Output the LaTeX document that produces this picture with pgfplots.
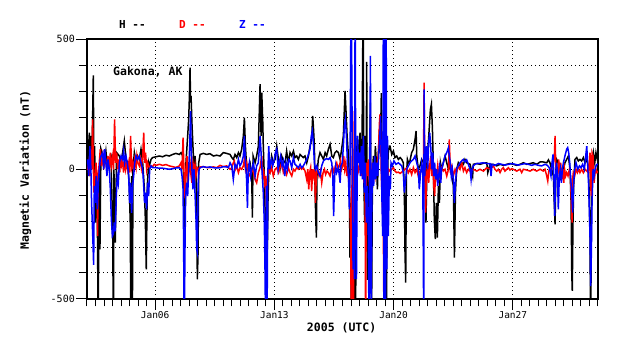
\documentclass[border=0pt]{standalone}
\usepackage{pgfplots}
\pgfplotsset{compat=1.18}
\usepackage{fontspec}
\newfontfamily\mono{DejaVu Sans Mono}
\begin{document}
\begin{tikzpicture}
\begin{axis}[
  at={(0pt,0pt)}, anchor=south west,
  scale only axis, width=511pt, height=260pt,
  xmin=2, xmax=32, ymin=-500, ymax=500,
  axis line style={line width=1.2pt},
  xtick={6,13,20,27}, xticklabels={Jan06,Jan13,Jan20,Jan27},
  minor xtick={2,2.5,...,32},
  ytick={-500,0,500}, yticklabels={-500,0,500},
  minor ytick={-400,-300,-200,-100,100,200,300,400},
  tick align=outside, tick pos=left,
  major tick length=11pt, minor tick length=7.5pt,
  every tick/.style={black, line width=1pt},
  xmajorgrids=true, ymajorgrids=true, yminorgrids=true,
  major grid style={black, line width=1pt, dash pattern=on 1pt off 3pt},
  minor grid style={black, line width=1pt, dash pattern=on 1pt off 3pt},
  xticklabel style={font=\mono\fontsize{9.5}{11}\selectfont, inner sep=1pt},
  yticklabel style={font=\mono\fontsize{10}{12}\selectfont, inner sep=1pt},
  clip=true,
]
\addplot[black, line width=1.5pt] coordinates {
(2.00,20) (2.04,24) (2.14,140) (2.17,-27) (2.23,127) (2.29,24) (2.37,360) (2.41,-65) (2.45,88) (2.49,-206) (2.57,-27) (2.62,-283) (2.66,-650) (2.70,-1) (2.76,-309) (2.82,76) (2.92,50) (3.02,24) (3.11,69) (3.21,-1) (3.31,37) (3.41,50) (3.51,-245) (3.55,-650) (3.58,-1) (3.66,-283) (3.74,63) (3.90,50) (4.00,24) (4.09,63) (4.19,108) (4.29,37) (4.39,24) (4.48,-65) (4.54,-206) (4.58,-650) (4.62,-27) (4.66,-650) (4.70,-1) (4.78,63) (4.88,24) (4.97,50) (5.07,37) (5.17,76) (5.27,24) (5.37,-78) (5.42,-181) (5.48,-386) (5.54,-65) (5.62,24) (5.66,12) (5.76,37) (5.85,44) (6.05,47) (6.25,50) (6.44,47) (6.64,53) (6.83,50) (7.03,56) (7.22,60) (7.42,56) (7.52,63) (7.62,50) (7.67,-27) (7.73,-283) (7.81,24) (7.91,127) (7.97,191) (8.01,274) (8.05,390) (8.08,255) (8.11,281) (8.16,178) (8.22,88) (8.28,-1) (8.34,50) (8.40,-1) (8.44,-206) (8.48,-424) (8.52,-322) (8.56,24) (8.64,56) (8.83,60) (9.03,56) (9.22,59) (9.42,50) (9.61,53) (9.81,50) (10.00,63) (10.20,60) (10.40,56) (10.50,44) (10.59,37) (10.69,56) (10.79,44) (10.89,63) (10.98,50) (11.08,76) (11.18,127) (11.24,197) (11.30,88) (11.38,-1) (11.47,12) (11.57,24) (11.67,-27) (11.71,-187) (11.75,50) (11.87,24) (11.96,50) (12.06,88) (12.16,326) (12.22,127) (12.26,294) (12.32,178) (12.35,88) (12.41,-27) (12.47,-206) (12.51,-386) (12.55,-258) (12.59,-309) (12.63,-104) (12.69,24) (12.75,-1) (12.84,50) (12.94,24) (13.04,37) (13.14,88) (13.24,37) (13.33,-1) (13.43,50) (13.53,31) (13.63,24) (13.72,69) (13.82,24) (13.92,63) (14.02,50) (14.12,69) (14.21,44) (14.31,50) (14.41,37) (14.51,56) (14.60,50) (14.70,44) (14.80,50) (14.90,24) (15.00,50) (15.09,88) (15.19,114) (15.25,204) (15.29,165) (15.35,88) (15.39,-78) (15.43,-194) (15.47,-264) (15.50,-27) (15.58,37) (15.68,63) (15.78,50) (15.88,37) (15.98,63) (16.07,50) (16.17,76) (16.27,95) (16.37,50) (16.46,44) (16.56,63) (16.66,69) (16.76,63) (16.86,37) (16.95,76) (17.05,127) (17.15,300) (17.21,217) (17.27,127) (17.35,50) (17.40,-27) (17.44,-341) (17.48,-130) (17.52,-650) (17.56,-130) (17.64,-650) (17.70,76) (17.76,-650) (17.82,24) (17.87,127) (17.93,50) (17.99,76) (18.03,140) (18.09,-1) (18.15,127) (18.21,650) (18.25,-27) (18.30,-206) (18.34,127) (18.38,-206) (18.42,412) (18.46,-426) (18.52,-100) (18.58,-1) (18.64,255) (18.70,-650) (18.75,-100) (18.81,50) (18.87,-27) (18.93,88) (18.99,24) (19.05,-78) (19.11,63) (19.17,150) (19.22,60) (19.28,292) (19.33,-40) (19.40,-250) (19.45,50) (19.52,-130) (19.57,-650) (19.62,-100) (19.68,60) (19.75,88) (19.79,88) (19.89,56) (19.99,69) (20.08,44) (20.18,50) (20.28,37) (20.38,44) (20.48,37) (20.57,24) (20.63,-78) (20.67,-322) (20.71,-437) (20.75,-27) (20.81,37) (20.87,24) (20.96,31) (21.06,63) (21.16,76) (21.26,114) (21.32,146) (21.36,50) (21.45,-1) (21.55,12) (21.65,37) (21.75,24) (21.85,-1) (21.90,-206) (21.96,24) (22.04,101) (22.10,165) (22.16,229) (22.22,249) (22.28,153) (22.33,24) (22.39,-194) (22.45,-270) (22.51,-130) (22.57,-264) (22.63,-65) (22.69,-130) (22.75,24) (22.82,-1) (22.92,24) (23.02,50) (23.12,24) (23.22,-1) (23.31,12) (23.41,-27) (23.51,-65) (23.57,-341) (23.63,-91) (23.70,-1) (23.80,24) (23.90,12) (24.00,24) (24.10,18) (24.19,37) (24.29,24) (24.49,18) (24.64,-27) (24.68,18) (24.88,21) (25.07,18) (25.27,22) (25.47,24) (25.53,-14) (25.66,18) (25.86,18) (26.05,12) (26.25,18) (26.44,14) (26.64,18) (26.83,21) (27.03,18) (27.23,14) (27.42,18) (27.62,24) (27.81,18) (28.01,21) (28.20,24) (28.40,18) (28.60,27) (28.79,27) (28.99,24) (29.09,35) (29.18,24) (29.28,-1) (29.38,-27) (29.44,-142) (29.48,-213) (29.52,-40) (29.57,37) (29.67,24) (29.77,-40) (29.87,-27) (29.97,-1) (30.06,24) (30.16,37) (30.26,50) (30.36,-1) (30.42,-130) (30.46,-399) (30.49,-469) (30.53,-213) (30.57,-65) (30.65,37) (30.75,44) (30.85,31) (30.94,37) (31.04,31) (31.14,44) (31.24,24) (31.34,37) (31.43,12) (31.49,-104) (31.53,-258) (31.57,-650) (31.61,-206) (31.65,24) (31.73,63) (31.81,24) (31.88,63) (31.96,37) (32.00,40)
};
\addplot[red, line width=1.5pt] coordinates {
(2.00,-1) (2.04,-1) (2.10,24) (2.16,-27) (2.21,50) (2.27,-1) (2.33,191) (2.37,12) (2.41,-91) (2.47,-27) (2.53,24) (2.59,-40) (2.62,-258) (2.66,-27) (2.72,24) (2.78,76) (2.84,12) (2.92,50) (2.98,-1) (3.04,63) (3.11,24) (3.17,-1) (3.23,50) (3.31,5) (3.37,63) (3.43,12) (3.51,50) (3.56,-1) (3.62,191) (3.68,24) (3.74,63) (3.80,-1) (3.86,37) (3.92,-14) (3.98,50) (4.03,12) (4.09,24) (4.15,-14) (4.21,37) (4.27,-1) (4.33,24) (4.39,-1) (4.45,24) (4.50,-14) (4.56,127) (4.62,5) (4.68,24) (4.74,-1) (4.80,37) (4.88,5) (4.93,50) (4.99,24) (5.07,12) (5.13,37) (5.19,5) (5.27,50) (5.33,140) (5.38,24) (5.44,63) (5.50,-1) (5.56,24) (5.66,5) (5.76,12) (5.85,9) (5.95,18) (6.05,14) (6.25,18) (6.44,14) (6.64,17) (6.83,12) (7.03,9) (7.22,6) (7.42,12) (7.52,24) (7.58,-1) (7.64,121) (7.69,-1) (7.73,-91) (7.77,-113) (7.81,-1) (7.87,50) (7.93,-53) (7.99,-1) (8.05,24) (8.11,-27) (8.16,-53) (8.22,24) (8.28,-1) (8.34,18) (8.40,-27) (8.48,5) (8.56,-1) (8.64,8) (8.83,9) (9.03,6) (9.22,5) (9.42,8) (9.61,5) (9.81,14) (10.00,9) (10.20,12) (10.30,5) (10.40,-1) (10.50,5) (10.59,24) (10.65,31) (10.71,-1) (10.79,12) (10.89,-14) (10.98,5) (11.08,-1) (11.18,12) (11.24,37) (11.30,-1) (11.38,24) (11.47,-14) (11.57,-27) (11.67,-1) (11.77,-14) (11.87,-40) (11.96,-53) (12.06,-14) (12.16,5) (12.26,50) (12.32,-40) (12.37,-1) (12.43,-53) (12.49,-27) (12.55,-168) (12.61,-27) (12.67,-1) (12.75,-14) (12.84,5) (12.94,-27) (13.04,-1) (13.14,5) (13.24,-14) (13.33,5) (13.43,24) (13.53,-14) (13.63,-1) (13.72,-21) (13.82,5) (13.92,-14) (14.02,-27) (14.12,-1) (14.21,-8) (14.31,5) (14.41,-1) (14.51,5) (14.60,-1) (14.70,5) (14.80,-8) (14.90,-40) (14.96,-1) (15.02,-78) (15.07,-14) (15.13,5) (15.19,-85) (15.25,-1) (15.31,-27) (15.37,-1) (15.41,-130) (15.47,-14) (15.54,-1) (15.62,-27) (15.70,-8) (15.78,-53) (15.86,-14) (15.94,-1) (16.01,-21) (16.09,-8) (16.17,-14) (16.27,-27) (16.35,-1) (16.43,5) (16.50,-14) (16.58,12) (16.66,24) (16.74,-1) (16.82,12) (16.88,31) (16.95,-1) (17.01,12) (17.07,50) (17.13,-1) (17.19,24) (17.25,-27) (17.31,5) (17.37,-53) (17.42,-91) (17.48,-258) (17.52,-650) (17.56,-27) (17.60,223) (17.64,-650) (17.68,-65) (17.74,50) (17.80,-27) (17.85,24) (17.91,-14) (17.97,-1) (18.03,63) (18.09,-27) (18.15,24) (18.21,-1) (18.26,-53) (18.32,-1) (18.36,-650) (18.40,24) (18.46,-27) (18.52,37) (18.58,-65) (18.64,-1) (18.70,-40) (18.75,24) (18.81,-14) (18.87,12) (18.93,-27) (18.99,-1) (19.05,24) (19.11,63) (19.17,178) (19.20,210) (19.24,127) (19.28,-27) (19.34,-130) (19.40,-258) (19.44,-650) (19.48,-130) (19.54,-1) (19.60,24) (19.66,-27) (19.71,-1) (19.79,-8) (19.89,-1) (19.99,5) (20.08,-8) (20.18,-14) (20.28,-12) (20.38,-17) (20.48,-12) (20.57,-8) (20.67,-1) (20.77,5) (20.87,-14) (20.96,-1) (21.06,-21) (21.16,5) (21.26,-14) (21.36,-1) (21.45,-27) (21.55,-8) (21.65,-1) (21.75,-27) (21.79,332) (21.83,-1) (21.88,-168) (21.94,-27) (22.00,24) (22.06,-53) (22.12,12) (22.18,50) (22.24,-27) (22.30,24) (22.35,-53) (22.41,-104) (22.47,-1) (22.53,-27) (22.59,12) (22.65,-27) (22.71,-1) (22.77,-14) (22.82,5) (22.92,-8) (23.02,-1) (23.12,-27) (23.22,-1) (23.27,114) (23.33,-1) (23.41,12) (23.51,-27) (23.61,-1) (23.70,-14) (23.80,12) (23.90,-1) (24.00,24) (24.10,-8) (24.19,5) (24.29,-14) (24.39,-1) (24.49,-8) (24.68,-1) (24.88,-8) (25.07,-1) (25.27,-8) (25.47,5) (25.66,-1) (25.76,5) (25.86,12) (25.95,-1) (26.05,-8) (26.15,-1) (26.25,-14) (26.34,-1) (26.44,5) (26.54,-8) (26.64,-1) (26.74,5) (26.83,-4) (26.93,1) (27.03,-1) (27.23,-8) (27.42,-1) (27.52,-14) (27.62,-1) (27.81,-4) (28.01,-8) (28.20,-1) (28.40,-8) (28.60,-1) (28.79,-8) (28.89,-1) (28.99,-27) (29.05,-46) (29.11,-8) (29.18,1) (29.28,-1) (29.38,24) (29.44,50) (29.48,127) (29.52,12) (29.57,-1) (29.63,-27) (29.69,37) (29.75,-14) (29.81,24) (29.87,-40) (29.93,-1) (29.99,-53) (30.04,-1) (30.10,-27) (30.16,-14) (30.24,-27) (30.32,-1) (30.38,-27) (30.44,-130) (30.48,-206) (30.51,-40) (30.55,-14) (30.63,-27) (30.71,-1) (30.79,-14) (30.87,-1) (30.94,-14) (31.04,-1) (31.14,-14) (31.24,-1) (31.34,-8) (31.43,-14) (31.49,24) (31.53,63) (31.57,-65) (31.61,-104) (31.65,63) (31.71,50) (31.77,-53) (31.83,-14) (31.88,-1) (31.94,-14) (32.00,-8)
};
\addplot[blue, line width=1.5pt] coordinates {
(2.00,18) (2.04,37) (2.10,-27) (2.17,88) (2.23,-1) (2.27,-130) (2.31,-206) (2.35,-283) (2.39,-369) (2.43,-65) (2.49,-130) (2.55,-27) (2.61,-155) (2.66,-65) (2.72,-1) (2.78,37) (2.82,50) (2.92,63) (2.98,-1) (3.04,76) (3.11,24) (3.17,-27) (3.23,37) (3.31,-1) (3.37,-78) (3.43,-194) (3.49,-258) (3.55,-250) (3.60,-206) (3.66,-240) (3.72,-104) (3.78,-27) (3.84,-53) (3.90,24) (4.00,50) (4.09,37) (4.15,69) (4.21,24) (4.29,50) (4.39,12) (4.45,-27) (4.50,-130) (4.56,-53) (4.62,-169) (4.68,-65) (4.74,-27) (4.80,24) (4.88,50) (4.97,37) (5.07,50) (5.17,24) (5.27,-1) (5.33,-65) (5.38,-130) (5.44,-91) (5.50,-155) (5.56,-53) (5.62,-104) (5.68,-1) (5.76,12) (5.85,5) (6.05,5) (6.25,3) (6.44,3) (6.64,1) (6.83,-1) (7.03,1) (7.22,4) (7.42,5) (7.52,-1) (7.58,-27) (7.64,-78) (7.67,-258) (7.71,-650) (7.75,-322) (7.79,-104) (7.85,-53) (7.91,-104) (7.97,-1) (8.03,88) (8.08,223) (8.11,101) (8.16,-1) (8.22,-78) (8.28,-1) (8.34,-91) (8.40,-194) (8.44,-309) (8.48,-322) (8.52,-65) (8.58,-1) (8.64,5) (8.83,9) (9.03,6) (9.22,8) (9.42,5) (9.61,4) (9.81,5) (10.00,9) (10.20,8) (10.30,5) (10.40,24) (10.50,12) (10.59,-40) (10.69,18) (10.79,5) (10.89,37) (10.98,12) (11.08,24) (11.18,50) (11.24,127) (11.30,24) (11.36,-27) (11.42,-149) (11.47,-1) (11.53,24) (11.61,-27) (11.67,-1) (11.77,24) (11.87,-27) (11.96,12) (12.06,24) (12.16,127) (12.22,63) (12.27,-1) (12.35,-91) (12.41,-206) (12.45,-386) (12.49,-650) (12.53,-65) (12.57,-650) (12.61,-27) (12.67,88) (12.73,-1) (12.78,24) (12.84,37) (12.90,12) (12.98,31) (13.06,63) (13.14,76) (13.22,-1) (13.29,24) (13.37,50) (13.45,12) (13.53,31) (13.61,-27) (13.69,24) (13.76,-1) (13.84,37) (13.92,31) (14.02,5) (14.12,44) (14.21,18) (14.31,12) (14.41,5) (14.51,18) (14.60,5) (14.70,12) (14.80,24) (14.90,37) (15.00,56) (15.09,76) (15.17,127) (15.23,146) (15.29,101) (15.35,24) (15.41,-1) (15.49,12) (15.58,-14) (15.68,-27) (15.78,12) (15.88,31) (15.98,37) (16.07,40) (16.17,37) (16.27,44) (16.37,24) (16.43,-27) (16.48,-181) (16.54,-27) (16.60,12) (16.66,-14) (16.76,5) (16.86,-53) (16.91,12) (16.99,24) (17.05,88) (17.11,165) (17.17,191) (17.23,127) (17.29,24) (17.35,-27) (17.40,-155) (17.44,-27) (17.50,650) (17.54,435) (17.58,-1) (17.62,-386) (17.66,-206) (17.70,-424) (17.74,650) (17.78,-65) (17.82,-424) (17.85,-130) (17.89,127) (17.93,24) (17.99,63) (18.05,-27) (18.11,88) (18.17,-40) (18.23,127) (18.28,-91) (18.34,24) (18.40,-206) (18.46,-65) (18.52,-283) (18.56,-650) (18.60,-1) (18.64,435) (18.68,-650) (18.72,-130) (18.77,24) (18.83,-65) (18.89,50) (18.95,-40) (19.01,24) (19.07,-27) (19.13,63) (19.19,127) (19.24,204) (19.30,-65) (19.36,-258) (19.40,650) (19.44,-650) (19.48,650) (19.52,-650) (19.56,650) (19.60,-386) (19.64,127) (19.69,-258) (19.75,-27) (19.81,-78) (19.85,24) (19.93,12) (20.02,31) (20.14,18) (20.28,24) (20.38,18) (20.48,12) (20.57,-14) (20.63,-91) (20.69,-53) (20.77,-1) (20.87,12) (20.96,24) (21.06,31) (21.16,37) (21.26,50) (21.36,24) (21.45,-1) (21.51,-78) (21.57,-27) (21.65,24) (21.71,-1) (21.75,-386) (21.77,-650) (21.79,306) (21.83,-27) (21.88,63) (21.94,88) (22.00,-1) (22.06,101) (22.12,140) (22.18,88) (22.24,-1) (22.30,63) (22.35,-27) (22.41,24) (22.47,-40) (22.53,-1) (22.59,-65) (22.65,-27) (22.71,24) (22.77,-53) (22.82,-1) (22.92,24) (23.02,50) (23.12,63) (23.22,82) (23.27,50) (23.33,24) (23.39,-27) (23.45,-1) (23.51,-40) (23.57,-130) (23.63,-53) (23.70,-1) (23.80,12) (23.90,24) (24.00,31) (24.10,37) (24.19,27) (24.29,35) (24.39,18) (24.49,-1) (24.55,-40) (24.61,-1) (24.68,12) (24.78,18) (24.88,21) (25.07,22) (25.27,24) (25.47,21) (25.66,21) (25.72,-27) (25.78,18) (25.95,14) (26.15,21) (26.34,18) (26.54,15) (26.74,18) (26.93,21) (27.13,18) (27.32,15) (27.52,18) (27.72,21) (27.91,18) (28.11,14) (28.30,18) (28.50,14) (28.69,12) (28.89,18) (29.03,14) (29.14,5) (29.24,-27) (29.30,24) (29.36,56) (29.42,-53) (29.46,-181) (29.50,-40) (29.56,24) (29.61,-1) (29.67,-155) (29.73,-27) (29.79,-1) (29.85,-53) (29.91,-1) (29.97,24) (30.06,50) (30.16,76) (30.22,82) (30.28,63) (30.34,24) (30.40,-40) (30.46,-91) (30.51,-168) (30.57,-53) (30.63,-1) (30.71,24) (30.81,-1) (30.91,12) (31.00,5) (31.10,18) (31.20,-1) (31.28,50) (31.34,88) (31.39,24) (31.45,-65) (31.49,-155) (31.53,-258) (31.57,-450) (31.61,-322) (31.65,-130) (31.71,-1) (31.77,-27) (31.83,-1) (31.88,12) (31.94,18) (32.00,18)
};
\end{axis}
\node[anchor=west, inner sep=0pt, font=\mono\bfseries\fontsize{11}{13}\selectfont, text=black] at (32pt,275pt) {H -{}-};
\node[anchor=west, inner sep=0pt, font=\mono\bfseries\fontsize{11}{13}\selectfont, text=red] at (92pt,275pt) {D -{}-};
\node[anchor=west, inner sep=0pt, font=\mono\bfseries\fontsize{11}{13}\selectfont, text=blue] at (152pt,275pt) {Z -{}-};
\node[anchor=west, inner sep=0pt, font=\mono\bfseries\fontsize{11.5}{13}\selectfont] at (26pt,227.5pt) {Gakona, AK};
\node[rotate=90, inner sep=0pt, font=\mono\bfseries\fontsize{11.5}{13}\selectfont] at (-61.5pt,129pt) {Magnetic Variation (nT)};
\node[inner sep=0pt, font=\mono\bfseries\fontsize{11.5}{13}\selectfont] at (254.6pt,-29pt) {2005 (UTC)};
\pgfresetboundingbox
\path[use as bounding box] (-87pt,-60pt) rectangle (551pt,299pt);
\end{tikzpicture}
\end{document}
